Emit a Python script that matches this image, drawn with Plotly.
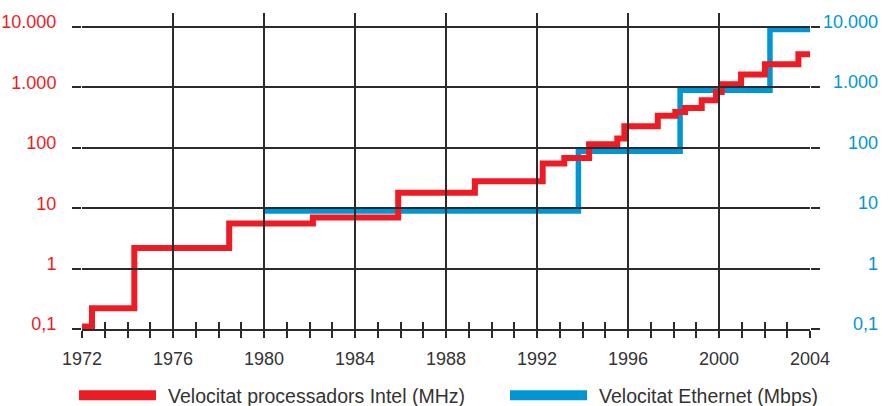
import math
import plotly.graph_objects as go

# ---- data ----
intel_years = [1972.0, 1972.44, 1974.3, 1978.47, 1982.15, 1985.9, 1989.27, 1992.25,
               1993.2, 1994.29, 1995.53, 1995.84, 1997.31, 1998.08, 1998.51, 1999.24,
               1999.87, 2000.12, 2000.97, 2002.02, 2003.49, 2004.0]
intel_mhz = [0.11, 0.22, 2.2, 5.6, 7.0, 18, 28, 55,
             68, 114, 143, 228, 340, 393, 458, 614,
             842, 1130, 1636, 2423, 3548, 3548]

eth_years = [1980.0, 1993.82, 1998.29, 2002.24, 2004.0]
eth_mbps = [9.0, 88, 900, 9100, 9100]

year_ticks = list(range(1972, 2005, 4))
year_labels = [str(y) for y in year_ticks]
minor_year_ticks = list(range(1972, 2005))
val_ticks = [0.1, 1, 10, 100, 1000, 10000]
val_labels = ['0,1', '1', '10', '100', '1.000', '10.000']

name_intel = '\u00a0\u200aVelocitat processadors Intel (MHz)'
name_eth = '\u00a0\u200aVelocitat Ethernet (Mbps)'

# ---- style ----
RED = '#ED1C24'
BLUE = '#0096D6'
GRID = '#2b2b2b'
TEXT = '#333333'
FONT = 'Liberation Sans, Arial, sans-serif'
FS = 18
FS_LEG = 19.5

W, H = 893, 406
ML, MR, MT, MB = 82, 83, 13, 77
plot_h = H - MT - MB
plot_w = W - ML - MR
decade_px = 60.4
y_range = [-1, -1 + plot_h / decade_px]
x_range = [1972, 2004]

fig = go.Figure()
fig.add_trace(go.Scatter(x=eth_years, y=eth_mbps, mode='lines', line=dict(color=BLUE, width=5.5, shape='hv'),
                         showlegend=False, hoverinfo='skip'))
fig.add_trace(go.Scatter(x=intel_years, y=intel_mhz, mode='lines', line=dict(color=RED, width=6, shape='hv'),
                         showlegend=False, hoverinfo='skip'))
# empty traces so that the overlay (grid) axes are drawn
fig.add_trace(go.Scatter(x=[None], y=[None], xaxis='x2', yaxis='y', mode='lines',
                         showlegend=False, hoverinfo='skip'))
fig.add_trace(go.Scatter(x=[None], y=[None], xaxis='x', yaxis='y2', mode='lines',
                         showlegend=False, hoverinfo='skip'))
# legend entries
fig.add_trace(go.Scatter(x=[None], y=[None], mode='lines', line=dict(color=RED, width=10),
                         name=name_intel, legend='legend'))
fig.add_trace(go.Scatter(x=[None], y=[None], mode='lines', line=dict(color=BLUE, width=10),
                         name=name_eth, legend='legend2'))

legend_common = dict(orientation='h', xanchor='left', y=-0.211, yanchor='middle', itemwidth=77,
                     font=dict(size=FS_LEG, color=TEXT, family=FONT), bgcolor='rgba(0,0,0,0)')

fig.update_layout(
    width=W, height=H,
    margin=dict(l=ML, r=MR, t=MT, b=MB, pad=0, autoexpand=False),
    paper_bgcolor='white', plot_bgcolor='white',
    font=dict(family=FONT, size=FS, color=TEXT),
    xaxis=dict(range=x_range, tickvals=year_ticks, ticktext=year_labels, showgrid=False, zeroline=False,
               showline=True, linecolor=GRID, linewidth=2, ticks='outside', ticklen=7, tickwidth=1.5,
               tickcolor=GRID, layer='above traces', tickfont=dict(size=FS, color=TEXT),
               ticklabelstandoff=5,
               minor=dict(tick0=year_ticks[0], dtick=1, ticks='outside', ticklen=7,
                          tickwidth=1.5, tickcolor=GRID, showgrid=False)),
    xaxis2=dict(range=x_range, overlaying='x', anchor='y', side='bottom', tickvals=year_ticks,
                showticklabels=False, showgrid=False, zeroline=False, showline=False,
                ticks='inside', ticklen=plot_h, tickwidth=1.5, tickcolor=GRID, layer='above traces',
                minor=dict(tickmode='array', tickvals=minor_year_ticks, ticks='inside', ticklen=7,
                           tickwidth=1.5, tickcolor=GRID, showgrid=False)),
    yaxis=dict(type='log', range=y_range, tickvals=val_ticks, ticktext=val_labels, showgrid=False,
               zeroline=False, showline=False, ticks='outside', ticklen=9, tickwidth=1.5, tickcolor=GRID,
               mirror='ticks', tickfont=dict(size=FS, color=RED), ticklabelshift=-5, ticklabelstandoff=12),
    yaxis2=dict(type='log', range=y_range, overlaying='y', anchor='x', side='right', tickvals=val_ticks,
                showticklabels=False, showgrid=False, zeroline=False, showline=False,
                ticks='inside', ticklen=plot_w, tickwidth=1.5, tickcolor=GRID, layer='above traces'),
    legend=dict(x=-0.011, **legend_common),
    legend2=dict(x=(511 - 6 - ML) / plot_w, **legend_common),
    showlegend=True,
)

for v, t in zip(val_ticks, val_labels):
    fig.add_annotation(x=(880 - ML) / plot_w, xref='paper', y=math.log10(v), yref='y',
                       text=t, showarrow=False, xanchor='right', yanchor='middle', yshift=5,
                       font=dict(size=FS, color=BLUE, family=FONT))

fig.write_html('out.html', config={'displayModeBar': False},
               post_script="document.body.style.margin='0';")
